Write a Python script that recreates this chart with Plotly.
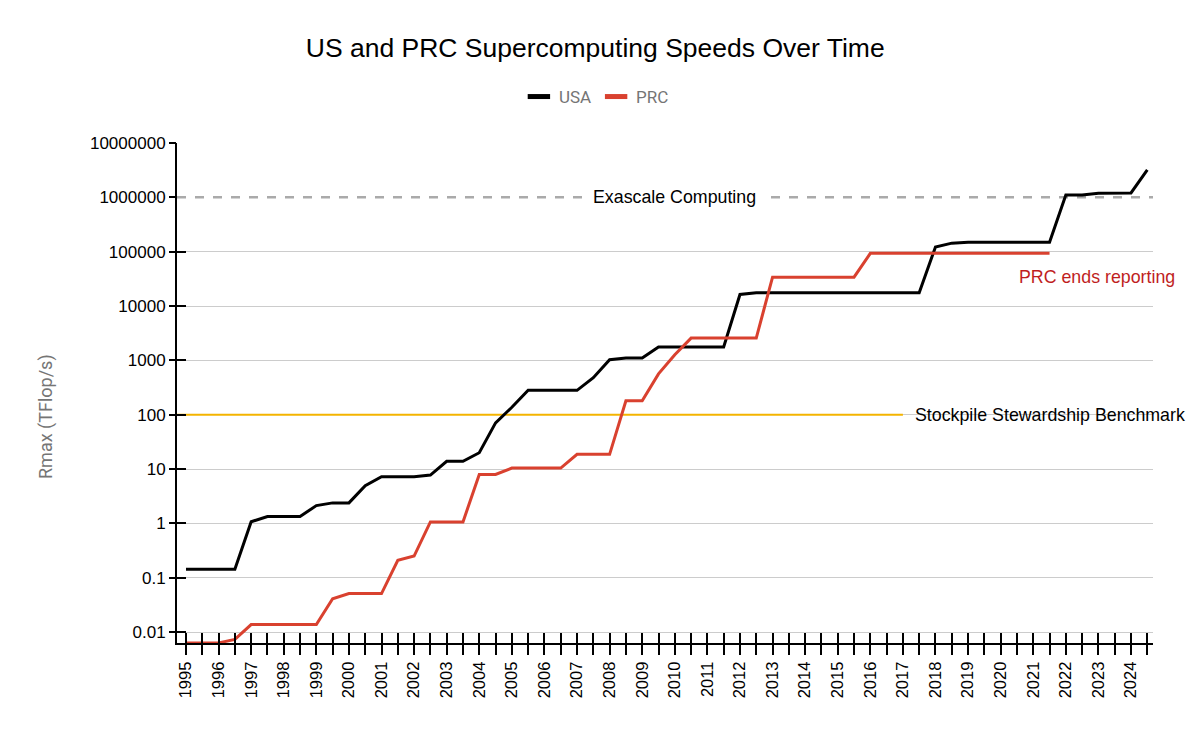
import plotly.graph_objects as go

# ---- data (TOP500 lists, June / November, 1995 .. 2024) ----
list_dates = [1995 + 0.5 * k for k in range(60)]  # June = .0, November = .5
year_labels = [str(int(d)) if d == int(d) else "" for d in list_dates]

usa_rmax = [
    0.1434, 0.1434, 0.1434, 0.1434, 1.068, 1.338, 1.338, 1.338, 2.121, 2.379,
    2.379, 4.938, 7.226, 7.226, 7.226, 7.727, 13.88, 13.88, 19.94, 70.72,
    136.8, 280.6, 280.6, 280.6, 280.6, 478.2, 1026, 1105, 1105, 1759,
    1759, 1759, 1759, 1759, 16324, 17590, 17590, 17590, 17590, 17590,
    17590, 17590, 17590, 17590, 17590, 17590, 122300, 143500, 148600, 148600,
    148600, 148600, 148600, 148600, 1102000, 1102000, 1194000, 1194000, 1206000, 3200000,
]
prc_rmax = [
    0.0063, 0.0063, 0.0063, 0.0073, 0.0137, 0.0137, 0.0137, 0.0137, 0.0137, 0.041,
    0.051, 0.051, 0.051, 0.209, 0.25, 1.06, 1.06, 1.06, 7.95, 7.95,
    10.4, 10.4, 10.4, 10.4, 18.6, 18.6, 18.6, 180.6, 180.6, 563,
    1271, 2566, 2566, 2566, 2566, 2566, 33862, 33862, 33862, 33862,
    33862, 33862, 93015, 93015, 93015, 93015, 93015, 93015, 93015, 93015,
    93015, 93015, 93015, 93015,
]
prc_dates = list_dates[:len(prc_rmax)]

y_tick_vals = [0.01, 0.1, 1, 10, 100, 1000, 10000, 100000, 1000000, 10000000]
y_tick_text = ["0.01", "0.1", "1", "10", "100", "1000", "10000", "100000", "1000000", "10000000"]

EXASCALE = 1000000
STOCKPILE = 100
STOCKPILE_END = 2017.0
PRC_END_LABEL_X = 2020.5

X_RANGE = [1994.724, 2024.675]
Y_RANGE = [-2.2025, 7]

BLACK = "#000000"
RED = "#D9412F"
YELLOW = "#F4B400"
GRID = "#CCCCCC"

fig = go.Figure()

fig.add_trace(go.Scatter(
    x=[X_RANGE[0], STOCKPILE_END], y=[STOCKPILE, STOCKPILE], mode="lines",
    line=dict(color=YELLOW, width=2), showlegend=False, hoverinfo="skip"))

fig.add_trace(go.Scatter(
    x=list_dates, y=usa_rmax, mode="lines", name="USA", legendgroup="usa",
    showlegend=False, line=dict(color=BLACK, width=3)))
fig.add_trace(go.Scatter(
    x=prc_dates, y=prc_rmax, mode="lines", name="PRC", legendgroup="prc",
    showlegend=False, line=dict(color=RED, width=3)))

# legend entries with short, thick swatches
for nm, grp, col in [("USA", "usa", BLACK), ("PRC", "prc", RED)]:
    fig.add_trace(go.Scatter(
        x=[None], y=[None], mode="markers", name=nm, legendgroup=grp,
        marker=dict(symbol="line-ew", size=18, color=col,
                    line=dict(color=col, width=5)),
        hoverinfo="skip"))

# helper trace so the overlaid tick axes are drawn
fig.add_trace(go.Scatter(
    x=[list_dates[0]], y=[usa_rmax[0]], xaxis="x2", yaxis="y2", mode="markers",
    marker=dict(opacity=0), showlegend=False, hoverinfo="skip"))

fig.add_shape(type="line", xref="paper", x0=0, x1=1, yref="y", y0=EXASCALE, y1=EXASCALE,
              line=dict(color="#AAAAAA", width=2.5, dash="9px,9px"), layer="below")

font_main = "Liberation Sans, Arial, sans-serif"

fig.update_layout(
    width=1200, height=738,
    margin=dict(l=177, r=47, t=143, b=95),
    paper_bgcolor="white", plot_bgcolor="white",
    title=dict(text="US and PRC Supercomputing Speeds Over Time",
               x=0.496, xref="container", xanchor="center",
               y=1 - 48 / 738, yref="container", yanchor="middle",
               font=dict(family=font_main, size=26.5, color="black")),
    legend=dict(orientation="h", xref="container", x=0.497, xanchor="center",
                yref="container", y=1 - 97 / 738, yanchor="middle",
                font=dict(family="Roboto, sans-serif", size=17, color="#757575"),
                itemwidth=30, bgcolor="rgba(0,0,0,0)"),
    xaxis=dict(type="linear", range=X_RANGE, tickmode="array", tickvals=list_dates,
               ticktext=year_labels, tickangle=-90, ticks="outside", ticklen=10,
               tickwidth=1.5, tickcolor="black", showline=True, linecolor="black",
               linewidth=2, showgrid=False, zeroline=False,
               tickfont=dict(family=font_main, size=16.5, color="black")),
    xaxis2=dict(type="linear", range=X_RANGE, overlaying="x", anchor="y", side="bottom",
                tickmode="array", tickvals=list_dates, ticks="inside", ticklen=10,
                tickwidth=1.5, tickcolor="black", showticklabels=False,
                showline=False, showgrid=False, zeroline=False),
    yaxis=dict(type="log", range=Y_RANGE, tickmode="array",
               tickvals=[v for v in y_tick_vals if v != EXASCALE],
               showticklabels=False, ticks="inside", ticklen=9, tickwidth=1.5,
               tickcolor="black", showline=True, linecolor="black", linewidth=2,
               showgrid=True, gridcolor=GRID, gridwidth=1, zeroline=False),
    yaxis2=dict(type="log", range=Y_RANGE, overlaying="y", anchor="x", side="left",
                tickmode="array", tickvals=y_tick_vals, ticktext=y_tick_text,
                ticks="outside", ticklen=7, tickwidth=1.5, tickcolor="black",
                showline=False, showgrid=False, zeroline=False,
                tickfont=dict(family=font_main, size=17, color="black")),
    hovermode=False,
)

ann_font = dict(family=font_main, size=17.8, color="black")
fig.add_annotation(x=2010.0, y=6, xref="x", yref="y", text="Exascale Computing",
                   showarrow=False, font=ann_font, bgcolor="white", borderpad=6,
                   xanchor="center", yanchor="middle")
fig.add_annotation(x=2017.3, y=2, xref="x", yref="y", text="Stockpile Stewardship Benchmark",
                   showarrow=False, font=ann_font, xanchor="left", yanchor="middle")
fig.add_annotation(x=PRC_END_LABEL_X, y=4.534, xref="x", yref="y", text="PRC ends reporting",
                   showarrow=False, font=dict(family=font_main, size=17.8, color="#BF1E1E"),
                   xanchor="left", yanchor="middle")
fig.add_annotation(x=(46 - 177) / 976, y=(643 - 417) / 500, xref="paper", yref="paper",
                   text="Rmax (TFlop/s)", textangle=-90, showarrow=False,
                   font=dict(family="Roboto, sans-serif", size=18, color="#757575"),
                   xanchor="center", yanchor="middle")

fig.write_html("out.html")
